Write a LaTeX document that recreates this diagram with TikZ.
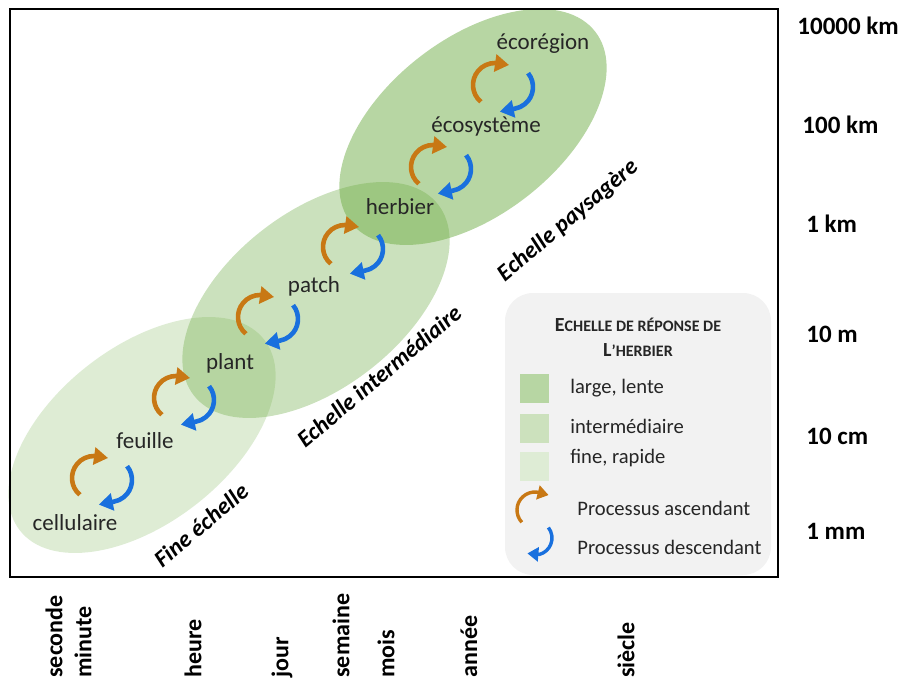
\documentclass[tikz,border=0pt]{standalone}
\usepackage{fontspec}
\setmainfont{Carlito}
\usepackage{tikz}
\usetikzlibrary{arrows.meta, positioning}
\definecolor{upcol}{RGB}{200,120,20}
\definecolor{downcol}{RGB}{25,112,222}
\definecolor{herbgreen}{RGB}{112,173,71}
\definecolor{legendgray}{RGB}{242,242,242}
\definecolor{labelgray}{RGB}{38,38,38}

\begin{document}
\begin{tikzpicture}[x=0.5pt, y=-0.5pt,
	level/.style={font=\fontsize{11.5}{13}\selectfont, text=labelgray, inner sep=1pt},
	band/.style={font=\fontsize{11.8}{14}\selectfont\bfseries\itshape, rotate=40, inner sep=0pt},
	space/.style={font=\fontsize{12.5}{14}\selectfont\bfseries, anchor=west, inner sep=0pt},
	time/.style={font=\fontsize{12}{14}\selectfont\bfseries, rotate=90, anchor=west, inner sep=0pt},
	legtext/.style={font=\fontsize{10.3}{12}\selectfont, text=labelgray, anchor=west, inner sep=0pt},
	legtitle/.style={font=\fontsize{8}{10}\selectfont\bfseries, text=labelgray, inner sep=0pt},
	swatch/.style={minimum width=14.5pt, minimum height=14.5pt, inner sep=0pt},
	up/.style={upcol, line width=2.3pt, -{Triangle[length=7pt, width=8.5pt]}},
	down/.style={downcol, line width=2.3pt, -{Triangle[length=7pt, width=8.5pt]}},
	cyc/.pic={
		\draw[up] (-8,-2) ++(130:22) arc[start angle=130, end angle=270, radius=22] -- ++(14,2);
		\draw[down] (8,0) ++(-39:22) arc[start angle=-39, end angle=80, radius=22] -- ++(-15,3);
	}]
	\useasboundingbox (0,0) rectangle (904,684);

	% echelles
	\fill[herbgreen, fill opacity=0.23, rotate around={38:(142,435)}] (142,435) ellipse[x radius=155, y radius=88];
	\fill[herbgreen, fill opacity=0.36, rotate around={38:(316,300)}] (316,300) ellipse[x radius=155, y radius=88];
	\fill[herbgreen, fill opacity=0.50, rotate around={38:(473,127)}] (473,127) ellipse[x radius=155, y radius=88];

	\node[level] (cell)   at (75,523) {cellulaire};
	\node[level] (leaf)   at (145,441) {feuille};
	\node[level] (plant)  at (230,363) {plant};
	\node[level] (patch)  at (314,286) {patch};
	\node[level] (meadow) at (400,207) {herbier};
	\node[level] (ecosys) at (486,126) {écosystème};
	\node[level] (ecoreg) at (543,44) {écorégion};

	\foreach \pt in {(102,480),(184,400),(268,319),(353,249),(441,169),(503,87)}
		\pic at \pt {cyc};

	\node[band] (fine)  at (201,525) {Fine échelle};
	\node[band] (inter) at (379,376) {Echelle intermédiaire};
	\node[band] (land)  at (568,221) {Echelle paysagère};

	% legende
	\fill[legendgray, rounded corners=14pt] (505,293) rectangle (771,575);
	\node[legtitle] (legt1) at (638,325) {{\fontsize{10}{12}\selectfont E}CHELLE DE RÉPONSE DE};
	\node[legtitle] (legt2) at (638,350) {{\fontsize{10}{12}\selectfont L}’HERBIER};
	\node[swatch, fill=herbgreen!50] (sqlarge) at (534,388) {};
	\node[swatch, fill=herbgreen!36] (sqinter) at (534,428) {};
	\node[swatch, fill=herbgreen!23] (sqfine)  at (534,466) {};
	\node[legtext, right=10.5pt of sqlarge] (txlarge) {large, lente};
	\node[legtext, right=10.5pt of sqinter, yshift=1pt] (txinter) {intermédiaire};
	\node[legtext, right=10.5pt of sqfine, yshift=4pt] (txfine) {fine, rapide};
	\draw[up, line width=1.7pt, -{Triangle[length=5.5pt, width=7pt]}] (535,510) ++(137:18) arc[start angle=137, end angle=275, radius=18] -- ++(12,3);
	\draw[down, line width=1.7pt, -{Triangle[length=5.5pt, width=7pt]}] (535,538) ++(-38:17) arc[start angle=-38, end angle=75, radius=17] -- ++(-12,-1);
	\node[legtext] (txup)   at (577,508) {Processus ascendant};
	\node[legtext] (txdown) at (577,547) {Processus descendant};

	\draw[line width=1.2pt] (10,9) rectangle (778,577);

	% espace
	\node[space] (s1) at (797,26) {10000 km};
	\node[space] (s2) at (802,125) {100 km};
	\node[space] (s3) at (806,224) {1 km};
	\node[space] (s4) at (806,334) {10 m};
	\node[space] (s5) at (806,436) {10 cm};
	\node[space] (s6) at (806,531) {1 mm};

	% temps
	\node[time] (t1) at (54,678) {seconde};
	\node[time] (t2) at (83,678) {minute};
	\node[time] (t3) at (193,678) {heure};
	\node[time] (t4) at (282,678) {jour};
	\node[time] (t5) at (341,678) {semaine};
	\node[time] (t6) at (386,678) {mois};
	\node[time] (t7) at (469,678) {année};
	\node[time] (t8) at (626,678) {siècle};
\end{tikzpicture}
\end{document}
